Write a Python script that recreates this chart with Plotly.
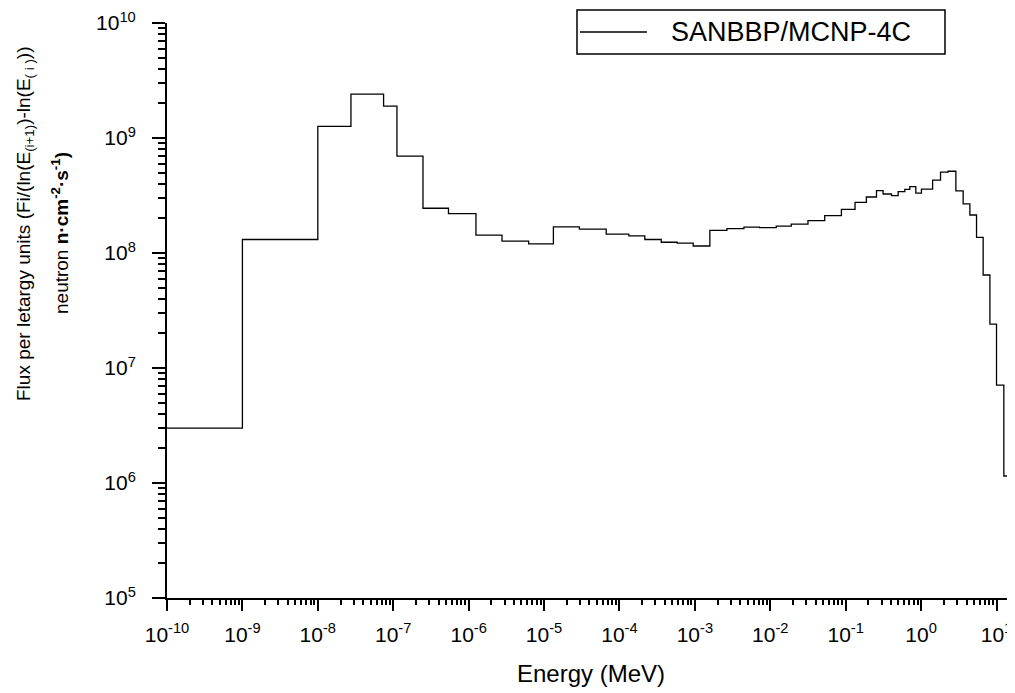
import plotly.graph_objects as go

# Bin edges (MeV) of the step spectrum
energy_edges = [1e-10, 1e-9, 1e-8, 2.75e-8, 7.45e-8, 1.12e-7, 2.48e-7, 5.4e-7, 1.25e-6,
                2.77e-6, 6.25e-6, 1.33e-5, 2.94e-5, 6.67e-5, 1.33e-4, 2.17e-4, 3.58e-4,
                5.83e-4, 9.5e-4, 1.58e-3, 2.66e-3, 4.47e-3, 7.2e-3, 1.2e-2, 1.9e-2,
                3.16e-2, 5.27e-2, 8.77e-2, 0.133, 0.188, 0.256, 0.313, 0.405, 0.496,
                0.608, 0.708, 0.851, 1.01, 1.42, 1.81, 2.28, 2.89, 3.61, 4.43, 5.43,
                6.65, 8.17, 10.0, 12.5, 16.3]

# Flux per lethargy in each bin
flux_values = [3.0e6, 1.31e8, 1.26e9, 2.41e9, 1.89e9, 6.95e8, 2.45e8, 2.2e8, 1.43e8,
               1.27e8, 1.2e8, 1.69e8, 1.61e8, 1.46e8, 1.41e8, 1.31e8, 1.24e8, 1.22e8,
               1.15e8, 1.57e8, 1.63e8, 1.68e8, 1.66e8, 1.71e8, 1.78e8, 1.91e8, 2.11e8,
               2.4e8, 2.76e8, 3.07e8, 3.48e8, 3.26e8, 3.15e8, 3.42e8, 3.58e8, 3.78e8,
               3.31e8, 3.6e8, 4.3e8, 5.04e8, 5.14e8, 3.47e8, 2.67e8, 2.14e8, 1.37e8,
               6.44e7, 2.41e7, 7.1e6, 1.15e6]
flux_floor = 1e5

series_name = "SANBBP/MCNP-4C"

x_exponents = list(range(-10, 2))
y_exponents = list(range(5, 11))
x_tickvals = [10.0 ** e for e in x_exponents]
x_ticktext = [f"10<sup>{e}</sup>" for e in x_exponents]
y_tickvals = [10.0 ** e for e in y_exponents]
y_ticktext = [f"10<sup>{e}</sup>" for e in y_exponents]

x_minor = [m * 10.0 ** e for e in x_exponents for m in range(2, 10)]
y_minor = [m * 10.0 ** e for e in y_exponents[:-1] for m in range(2, 10)]

FONT = "Arial, Liberation Sans, sans-serif"

fig = go.Figure()
fig.add_trace(go.Scatter(
    x=energy_edges,
    y=flux_values + [flux_floor],
    mode="lines",
    line_shape="hv",
    line=dict(color="black", width=1.3),
    name=series_name,
    showlegend=False,
))

axis_common = dict(
    type="log",
    showline=True, linewidth=2, linecolor="black",
    ticks="outside", tickwidth=2, tickcolor="black",
    showgrid=False, zeroline=False, mirror=False,
    tickfont=dict(family=FONT, size=21, color="black"),
    tickmode="array",
)

fig.update_xaxes(
    **axis_common,
    range=[-10, 1.245],
    tickvals=x_tickvals, ticktext=x_ticktext, ticklen=11,
    ticklabelstandoff=6,
    minor=dict(tickmode="array", tickvals=x_minor, ticks="outside", ticklen=5,
               tickwidth=1.5, tickcolor="black", showgrid=False),
    title=dict(text="Energy (MeV)", font=dict(family=FONT, size=24, color="black"),
               standoff=20),
)
fig.update_yaxes(
    **axis_common,
    range=[5, 10],
    tickvals=y_tickvals, ticktext=y_ticktext, ticklen=13,
    ticklabelstandoff=12,
    minor=dict(tickmode="array", tickvals=y_minor, ticks="outside", ticklen=7,
               tickwidth=1.5, tickcolor="black", showgrid=False),
)

# the page has an 8px body margin, so the figure is placed at (8, 8)
OFF = 8
W, H = 1015 - OFF, 693 - OFF
L, R, T, B = 159, 0, 15, 95
pw, ph = W - L - R, H - T - B

def px(xp):
    return (xp - OFF - L) / pw

def py(yp):
    return 1 - (yp - OFF - T) / ph

# y-axis title as two rotated lines
fig.add_annotation(
    text="Flux per letargy units (Fi/(ln(E<sub>(i+1)</sub>)-ln(E<sub>( i )</sub>))",
    xref="paper", yref="paper", x=px(25), y=py(224), xanchor="center", yanchor="middle",
    textangle=-90, showarrow=False, font=dict(family=FONT, size=19, color="black"),
)
fig.add_annotation(
    text="neutron <b>n·cm<sup>-2</sup>·s<sup>-1</sup>)</b>",
    xref="paper", yref="paper", x=px(60), y=py(233), xanchor="center", yanchor="middle",
    textangle=-90, showarrow=False, font=dict(family=FONT, size=19, color="black"),
)

# legend box drawn manually
fig.add_shape(type="rect", xref="paper", yref="paper",
              x0=px(577), x1=px(945), y0=py(54), y1=py(10),
              line=dict(color="black", width=1.5), fillcolor="white")
fig.add_shape(type="line", xref="paper", yref="paper",
              x0=px(580), x1=px(647), y0=py(32), y1=py(32),
              line=dict(color="black", width=1.3))
fig.add_annotation(text=series_name, xref="paper", yref="paper",
                   x=px(791), y=py(32), xanchor="center", yanchor="middle",
                   showarrow=False, font=dict(family=FONT, size=27, color="black"))

fig.update_layout(
    width=W, height=H, autosize=False,
    margin=dict(l=L, r=R, t=T, b=B),
    paper_bgcolor="white", plot_bgcolor="white",
    font=dict(family=FONT, color="black"),
)

fig.write_html("out.html")
